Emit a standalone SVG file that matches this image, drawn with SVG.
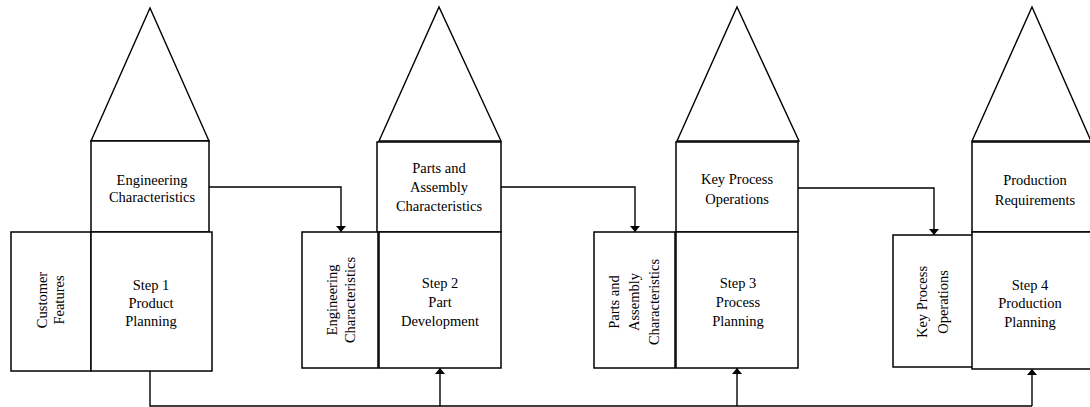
<svg xmlns="http://www.w3.org/2000/svg" width="1090" height="407" viewBox="0 0 1090 407">
<style>
.b{fill:#fff;stroke:#000;stroke-width:1.5}
.r{fill:none;stroke:#000;stroke-width:1.4;stroke-linejoin:miter}
.t{font-family:"Liberation Serif","Times New Roman",serif;font-size:14.5px;fill:#000;text-anchor:middle}
.c{fill:none;stroke:#000;stroke-width:1.4}
</style>
<defs>
<marker id="ah" viewBox="0 0 6 10" refX="6" refY="5" markerWidth="6" markerHeight="10" markerUnits="userSpaceOnUse" orient="auto">
<path d="M0,0 L6,5 L0,10 z" fill="#000"/>
</marker>
</defs>
<g id="house1">
<polygon class="r" points="91,141 150,8 209,141"/>
<rect id="h1-top" class="b" x="91" y="141" width="118" height="91"/>
<text class="t" x="152" y="185">Engineering</text>
<text class="t" x="152" y="202">Characteristics</text>
<rect id="h1-side" class="b" x="11" y="232" width="80" height="139"/>
<text class="t" transform="translate(47,300) rotate(-90)">Customer</text>
<text class="t" transform="translate(64,300) rotate(-90)">Features</text>
<rect id="h1-main" class="b" x="91" y="232" width="121" height="139"/>
<text class="t" x="151" y="290">Step 1</text>
<text class="t" x="151" y="308">Product</text>
<text class="t" x="151" y="326">Planning</text>
</g>
<g id="house2">
<polygon class="r" points="379,141 439,7 501,141"/>
<rect id="h2-top" class="b" x="377" y="142" width="124" height="90"/>
<text class="t" x="439" y="173">Parts and</text>
<text class="t" x="439" y="192">Assembly</text>
<text class="t" x="439" y="211">Characteristics</text>
<rect id="h2-side" class="b" x="302" y="232" width="76" height="136"/>
<text class="t" transform="translate(337,300) rotate(-90)">Engineering</text>
<text class="t" transform="translate(355,300) rotate(-90)">Characteristics</text>
<rect id="h2-main" class="b" x="379" y="232" width="122" height="136"/>
<text class="t" x="440" y="288">Step 2</text>
<text class="t" x="440" y="307">Part</text>
<text class="t" x="440" y="326">Development</text>
</g>
<g id="house3">
<polygon class="r" points="677,141 737,7 799,141"/>
<rect id="h3-top" class="b" x="676" y="142" width="122" height="90"/>
<text class="t" x="737" y="184">Key Process</text>
<text class="t" x="737" y="204">Operations</text>
<rect id="h3-side" class="b" x="594" y="232" width="81" height="136"/>
<text class="t" transform="translate(619,302) rotate(-90)">Parts and</text>
<text class="t" transform="translate(639,302) rotate(-90)">Assembly</text>
<text class="t" transform="translate(659,302) rotate(-90)">Characteristics</text>
<rect id="h3-main" class="b" x="676" y="232" width="122" height="136"/>
<text class="t" x="738" y="288">Step 3</text>
<text class="t" x="738" y="307">Process</text>
<text class="t" x="738" y="326">Planning</text>
</g>
<g id="house4">
<polygon class="r" points="972,141 1032,7 1091,141"/>
<rect id="h4-top" class="b" x="972" y="142" width="120" height="90"/>
<text class="t" x="1035" y="185">Production</text>
<text class="t" x="1035" y="205">Requirements</text>
<rect id="h4-side" class="b" x="893" y="235" width="80" height="132"/>
<text class="t" transform="translate(927,302) rotate(-90)">Key Process</text>
<text class="t" transform="translate(948,302) rotate(-90)">Operations</text>
<rect id="h4-main" class="b" x="972" y="232" width="120" height="137"/>
<text class="t" x="1030" y="290">Step 4</text>
<text class="t" x="1030" y="308">Production</text>
<text class="t" x="1030" y="327">Planning</text>
</g>
<g id="connectors">
<path class="c" d="M209,187 H341 V232" marker-end="url(#ah)"/>
<path class="c" d="M501,187 H635 V232" marker-end="url(#ah)"/>
<path class="c" d="M798,188 H934 V235" marker-end="url(#ah)"/>
<path class="c" d="M150,371 V406 H1032"/>
<path class="c" d="M440,406 V368" marker-end="url(#ah)"/>
<path class="c" d="M737,406 V368" marker-end="url(#ah)"/>
<path class="c" d="M1032,406 V369" marker-end="url(#ah)"/>
</g>
</svg>
